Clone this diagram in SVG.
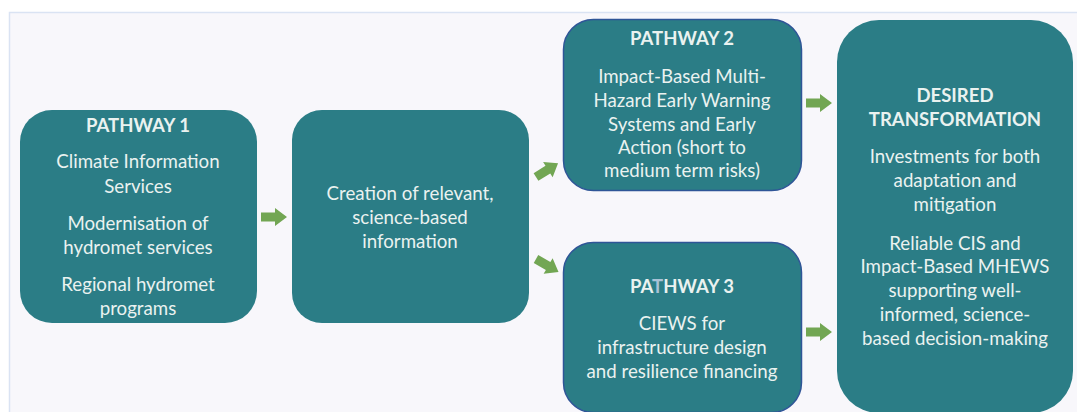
<svg xmlns="http://www.w3.org/2000/svg" width="1077" height="412" viewBox="0 0 1077 412">
<defs>
<style>
.node{fill:#2b7d86}
.bord{stroke:#2f5597;stroke-width:1.5}
.t{font-family:Lato,"Open Sans","Liberation Sans",sans-serif;font-size:18.7px;fill:#eaf2f0;text-anchor:middle}
.b{font-weight:bold;font-size:18.5px}
.arr{fill:#72a653}
</style>
<path id="arrow" d="M0,-4.5 L14,-4.5 L14,-9 L26,0 L14,9 L14,4.5 L0,4.5 Z"/>
</defs>
<rect x="0" y="0" width="1077" height="412" fill="#ffffff"/>
<rect x="9.5" y="12.5" width="1080" height="410" fill="#f8f7fb" stroke="#dae3f3" stroke-width="1.5"/>

<g id="pathway1">
<rect class="node" x="20" y="110" width="237" height="213" rx="32"/>
<text class="t b" x="138" y="132">PATHWAY 1</text>
<text class="t" x="138" y="168">Climate Information</text>
<text class="t" x="138" y="193">Services</text>
<text class="t" x="138" y="230">Modernisation of</text>
<text class="t" x="138" y="254">hydromet services</text>
<text class="t" x="138" y="291">Regional hydromet</text>
<text class="t" x="138" y="315">programs</text>
</g>

<g id="creation">
<rect class="node" x="292" y="110" width="237" height="213" rx="30"/>
<text class="t" x="410" y="200">Creation of relevant,</text>
<text class="t" x="410" y="224">science-based</text>
<text class="t" x="410" y="248">information</text>
</g>

<g id="pathway2">
<rect class="node bord" x="563.5" y="19.5" width="238" height="171" rx="30"/>
<text class="t b" x="682" y="45">PATHWAY 2</text>
<text class="t" x="682" y="83">Impact-Based Multi-</text>
<text class="t" x="682" y="107">Hazard Early Warning</text>
<text class="t" x="682" y="131">Systems and Early</text>
<text class="t" x="682" y="154">Action (short to</text>
<text class="t" x="682" y="177">medium term risks)</text>
</g>

<g id="pathway3">
<rect class="node bord" x="563.5" y="242.5" width="238" height="170" rx="30"/>
<text class="t b" x="682" y="293">PA<tspan fill="#a9c2d6">T</tspan>HWAY 3</text>
<text class="t" x="682" y="330">CIEWS for</text>
<text class="t" x="682" y="354">infrastructure design</text>
<text class="t" x="682" y="378">and resilience financing</text>
</g>

<g id="desired">
<rect class="node" x="837" y="20" width="236" height="393" rx="42"/>
<text class="t b" x="955" y="102">DESIRED</text>
<text class="t b" x="955" y="126">TRANSFORMATION</text>
<text class="t" x="955" y="163">Investments for both</text>
<text class="t" x="955" y="187">adaptation and</text>
<text class="t" x="955" y="211">mitigation</text>
<text class="t" x="955" y="250">Reliable CIS and</text>
<text class="t" x="955" y="273">Impact-Based MHEWS</text>
<text class="t" x="955" y="297">supporting well-</text>
<text class="t" x="955" y="321">informed, science-</text>
<text class="t" x="955" y="345">based decision-making</text>
</g>

<g id="connectors" class="arr">
<use href="#arrow" transform="translate(261,217)"/>
<use href="#arrow" transform="translate(536,177) rotate(-32)"/>
<use href="#arrow" transform="translate(536,259) rotate(30)"/>
<use href="#arrow" transform="translate(806,103)"/>
<use href="#arrow" transform="translate(806,332)"/>
</g>
</svg>
